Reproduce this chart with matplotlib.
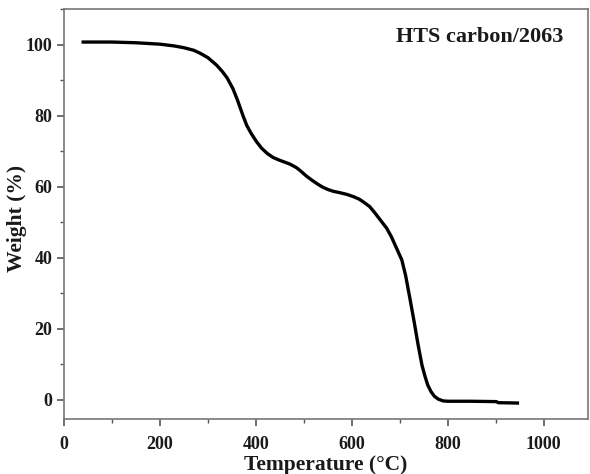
import matplotlib.pyplot as plt
from matplotlib.ticker import MultipleLocator

# TGA curve of the HTS carbon/2063 sample
temperature = [40, 100, 150, 200, 230, 250, 270, 283, 300, 318, 330, 340, 352,
               362, 373, 381, 390, 401, 412, 424, 436, 448, 460, 470, 477, 485,
               495, 505, 519, 530, 540, 550, 561, 575, 590, 603, 615, 625, 637,
               648, 660, 672, 682, 692, 704, 712, 721, 730, 738, 746, 752, 758,
               765, 772, 780, 790, 800, 846, 901, 905, 945]
weight = [100.7, 100.7, 100.5, 100.1, 99.6, 99.1, 98.4, 97.6, 96.3, 94.2, 92.4,
          90.6, 87.6, 84.2, 80.0, 77.2, 75.0, 72.7, 70.8, 69.3, 68.2, 67.5,
          66.9, 66.4, 65.9, 65.3, 64.2, 63.0, 61.6, 60.6, 59.8, 59.2, 58.7,
          58.3, 57.8, 57.2, 56.5, 55.6, 54.4, 52.6, 50.5, 48.4, 46.0, 43.0,
          39.4, 35.0, 28.5, 21.8, 15.5, 9.8, 6.8, 4.2, 2.3, 1.0, 0.2, -0.3,
          -0.4, -0.4, -0.5, -0.8, -0.9]

plt.rcParams['font.family'] = ['Liberation Serif', 'DejaVu Serif']
plt.rcParams['font.weight'] = 'bold'

fig = plt.figure(figsize=(5.9, 4.74), dpi=100)
ax = fig.add_axes([0.1085, 0.116, 0.888, 0.865])

ax.plot(temperature, weight, color='black', linewidth=2.4,
        solid_joinstyle='round')

ax.set_xlim(0, 1092)
ax.set_ylim(-5.4, 110)
ax.xaxis.set_major_locator(MultipleLocator(200))
ax.xaxis.set_minor_locator(MultipleLocator(100))
ax.yaxis.set_major_locator(MultipleLocator(20))
ax.yaxis.set_minor_locator(MultipleLocator(10))

ax.tick_params(which='major', direction='out', length=5, width=1.2,
               color='#555555', labelsize=13, labelcolor='#1a1a1a')
ax.tick_params(which='minor', direction='out', length=3, width=1.0,
               color='#555555')
ax.tick_params(axis='x', pad=7)
for spine in ax.spines.values():
    spine.set_color('#777777')
    spine.set_linewidth(1.2)

ax.set_xlabel('Temperature (°C)', fontsize=15.5, fontweight='bold',
              color='#1a1a1a', labelpad=2)
ax.set_ylabel('Weight (%)', fontsize=15.5, fontweight='bold',
              color='#1a1a1a')
ax.yaxis.set_label_coords(-0.07, 0.49)

ax.text(0.954, 0.932, 'HTS carbon/2063', transform=ax.transAxes,
        ha='right', va='center', fontsize=16, fontweight='bold',
        color='#1a1a1a')

fig.savefig('out.png', dpi=100)
